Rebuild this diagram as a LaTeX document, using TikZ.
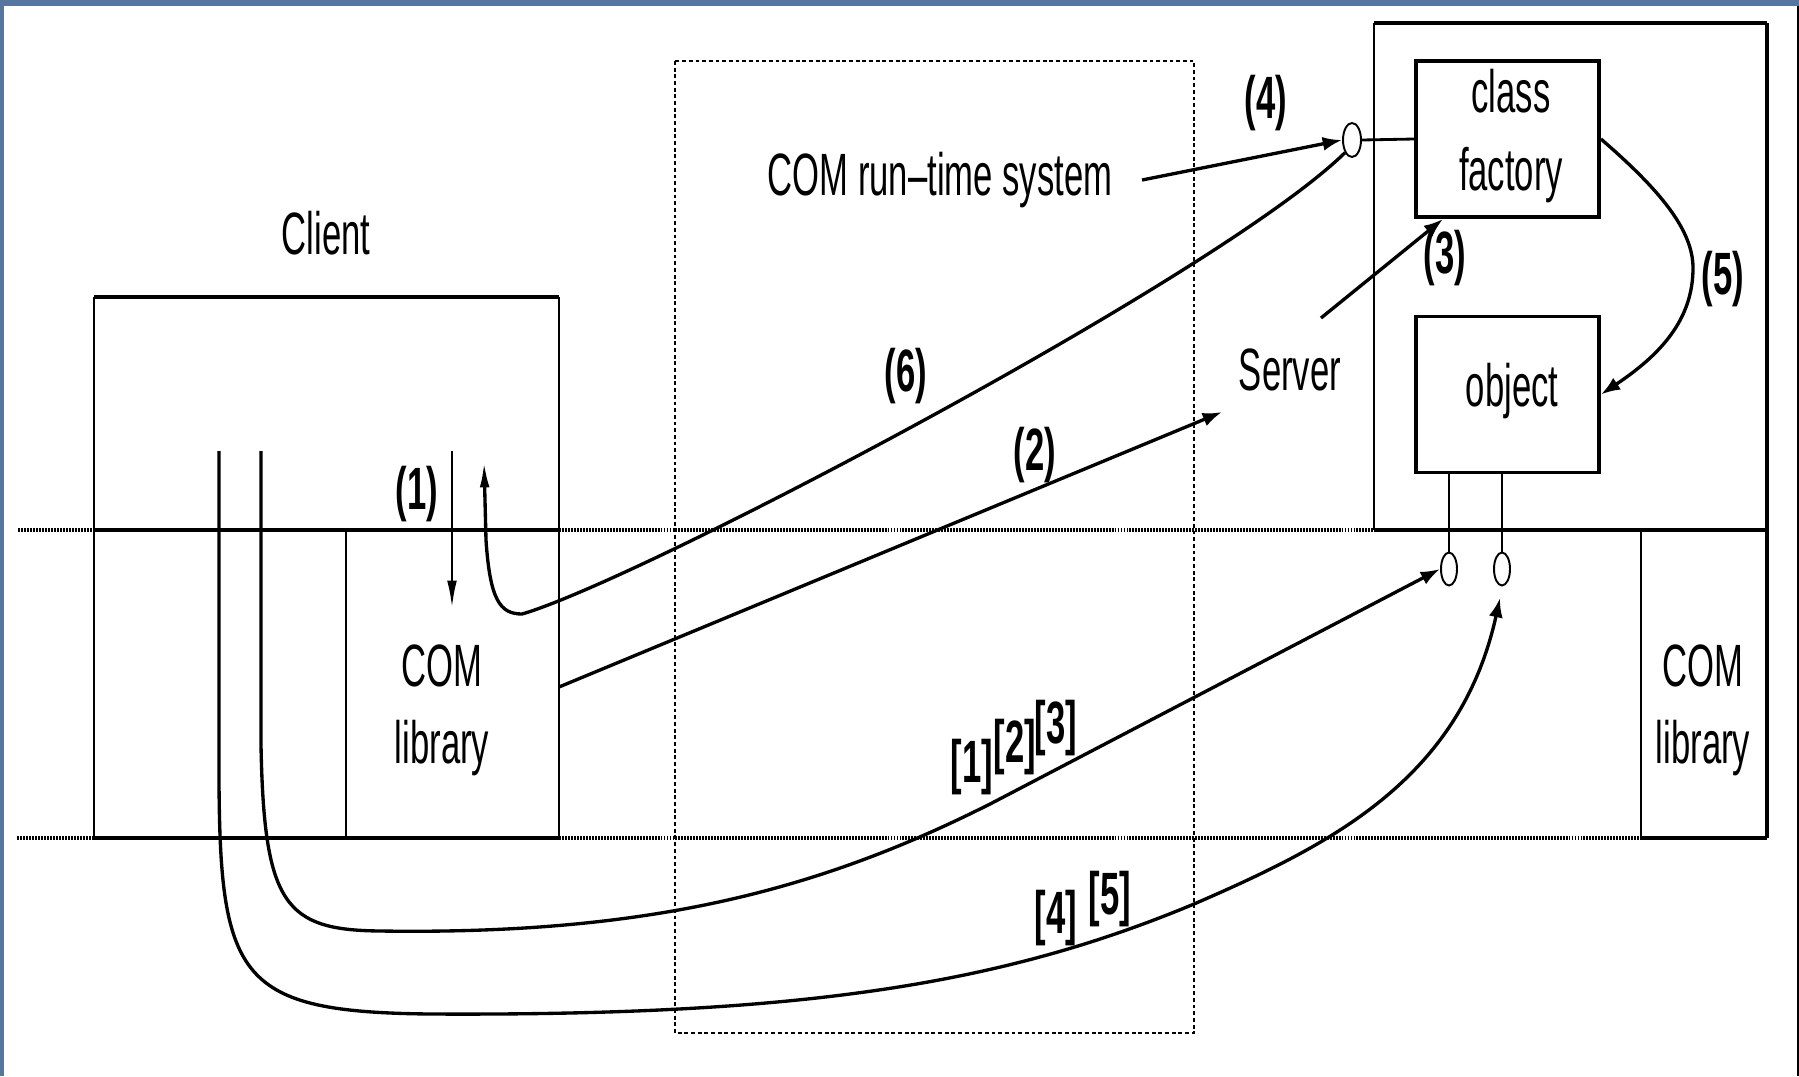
\documentclass[tikz,border=0pt]{standalone}
\usepackage{fontspec}
\newfontfamily\cf[FakeStretch=0.58]{Liberation Sans}
\usetikzlibrary{arrows.meta,shapes.geometric}
\definecolor{slideblue}{RGB}{84,118,160}
\tikzset{
  lbl/.style={font=\cf\fontsize{34}{40}\selectfont, inner sep=0pt},
  num/.style={font=\cf\bfseries\fontsize{34}{40}\selectfont, inner sep=0pt},
  heavy/.style={line width=2.3pt},
  midline/.style={line width=1.6pt},
  thinline/.style={line width=1.1pt},
  sepline/.style={line width=1.8pt, dash pattern=on 1.1pt off 0.6pt},
  rtbox/.style={line width=0.8pt, dash pattern=on 2.2pt off 1.6pt},
  curve/.style={line width=1.9pt},
  arr/.style={-{Latex[length=11pt,width=8pt]}},
  varr/.style={-{Latex[length=15pt,width=5.5pt]}},
  rvarr/.style={{Latex[length=15pt,width=5.5pt]}-},
  lolli/.style={draw, ellipse, line width=1.1pt, inner sep=0pt},
  compbox/.style={draw, line width=2.2pt, inner sep=0pt, minimum width=3.66cm, minimum height=3.12cm}
}
\begin{document}
\begin{tikzpicture}[x=0.02cm, y=-0.02cm]
\useasboundingbox (0,0) rectangle (1799,1076);
\fill[white] (0,0) rectangle (1799,1076);
\fill[slideblue] (0,0) rectangle (1799,6);
\fill[slideblue] (0,0) rectangle (4,1076);
\draw[line width=0.9pt] (1798,6) -- (1798,1076);

% separators
\draw[sepline] (18,530) -- (94,530);
\draw[sepline] (559,530) -- (1374,530);
\draw[sepline] (17,838) -- (94,838);
\draw[sepline] (559,838) -- (1641,838);

% run-time system region
\draw[rtbox] (675,61) rectangle (1194,1033);

% client box
\draw[heavy] (94,297) -- (559,297);
\draw[thinline] (94,297) -- (94,838);
\draw[thinline] (559,297) -- (559,838);
\draw[heavy] (94,530) -- (559,530);
\draw[heavy] (94,838) -- (559,838);
\draw[thinline] (346,530) -- (346,838);

% server box
\draw[heavy] (1374,23) -- (1767,23);
\draw[heavy] (1767,23) -- (1767,838);
\draw[midline] (1374,23) -- (1374,530);
\draw[heavy] (1374,530) -- (1767,530);
\draw[midline] (1641,530) -- (1641,838);
\draw[heavy] (1641,838) -- (1767,838);

% components
\node[compbox] (cf) at (1507.5,139) {};
\node[compbox] (obj) at (1507.5,394.5) {};
\node[lolli, minimum width=0.36cm, minimum height=0.68cm] (lA) at (1352,140) {};
\node[lolli, minimum width=0.32cm, minimum height=0.66cm] (lB) at (1449,569) {};
\node[lolli, minimum width=0.32cm, minimum height=0.66cm] (lC) at (1502,569) {};
\draw[midline] (lA.east) -- (cf.west);
\coordinate (oB) at (1449,473);
\coordinate (oC) at (1502,473);
\draw[thinline] (oB) -- (lB.north);
\draw[thinline] (oC) -- (lC.north);

% texts
\node[lbl, anchor=base] (client) at (326,254) {Client};
\node[lbl, anchor=base] (rts) at (940,195) {COM run–time system};
\node[lbl, anchor=base] (server) at (1290,390) {Server};
\node[lbl, anchor=base] (tclass) at (1511,112) {class};
\node[lbl, anchor=base] (tfact) at (1511,190) {factory};
\node[lbl, anchor=base] (tobj) at (1512,406) {object};
\node[lbl, anchor=base] (com1) at (442,686) {COM};
\node[lbl, anchor=base] (lib1) at (442,763) {library};
\node[lbl, anchor=base] (com2) at (1703,686) {COM};
\node[lbl, anchor=base] (lib2) at (1703,763) {library};

\node[num] (n1) at (417,494) {(1)};
\node[num] (n2) at (1035,455) {(2)};
\node[num] (n3) at (1445,258) {(3)};
\node[num] (n4) at (1266,103) {(4)};
\node[num] (n5) at (1723,279) {(5)};
\node[num] (n6) at (906,376) {(6)};
\node[num] (b1) at (972,767) {[1]};
\node[num] (b2) at (1015,747) {[2]};
\node[num] (b3) at (1056,728) {[3]};
\node[num] (b4) at (1056,918) {[4]};
\node[num] (b5) at (1110,899) {[5]};

% coordinates for connectors
\coordinate (v1) at (219,451);
\coordinate (v2) at (261,451);
\coordinate (v3) at (452,451);
\coordinate (v3e) at (452,607);
\coordinate (v4) at (484,461);
\coordinate (libR) at (559,687);
\coordinate (srvT) at (1222,412);
\coordinate (rtsE) at (1142,180);
\coordinate (s3) at (1321,318);
\coordinate (cfB) at (1443,219);
\coordinate (c45) at (1500,598);

% (1)
\draw[thinline, varr] (v3) -- (v3e);
% (6) with upward arrow
\draw[curve, rvarr] (v4) -- (486,540) .. controls (490,600) and (500,614) .. (522,614)
   .. controls (640,580) and (1220,275) .. (lA.south west);
% (2)
\draw[curve, arr] (libR) -- (srvT);
% (4)
\draw[curve, arr] (rtsE) -- (lA.west);
% (3)
\draw[curve, arr] (s3) -- (cfB);
% (5)
\draw[curve, arr] (cf.east) .. controls (1660,190) and (1693,230) .. (1693,268)
   .. controls (1693,320) and (1660,355) .. (obj.east);
% [1][2][3]
\draw[curve, arr] (v2) -- (261,745) .. controls (264,905) and (285,930) .. (380,931)
   .. controls (650,935) and (820,890) .. (992,803) -- (lB.west);
% [4][5]
\draw[curve, arr] (v1) -- (219,780) .. controls (220,980) and (240,1012) .. (430,1014)
   .. controls (800,1016) and (1000,985) .. (1194,904)
   .. controls (1330,845) and (1460,780) .. (c45);
\end{tikzpicture}
\end{document}
